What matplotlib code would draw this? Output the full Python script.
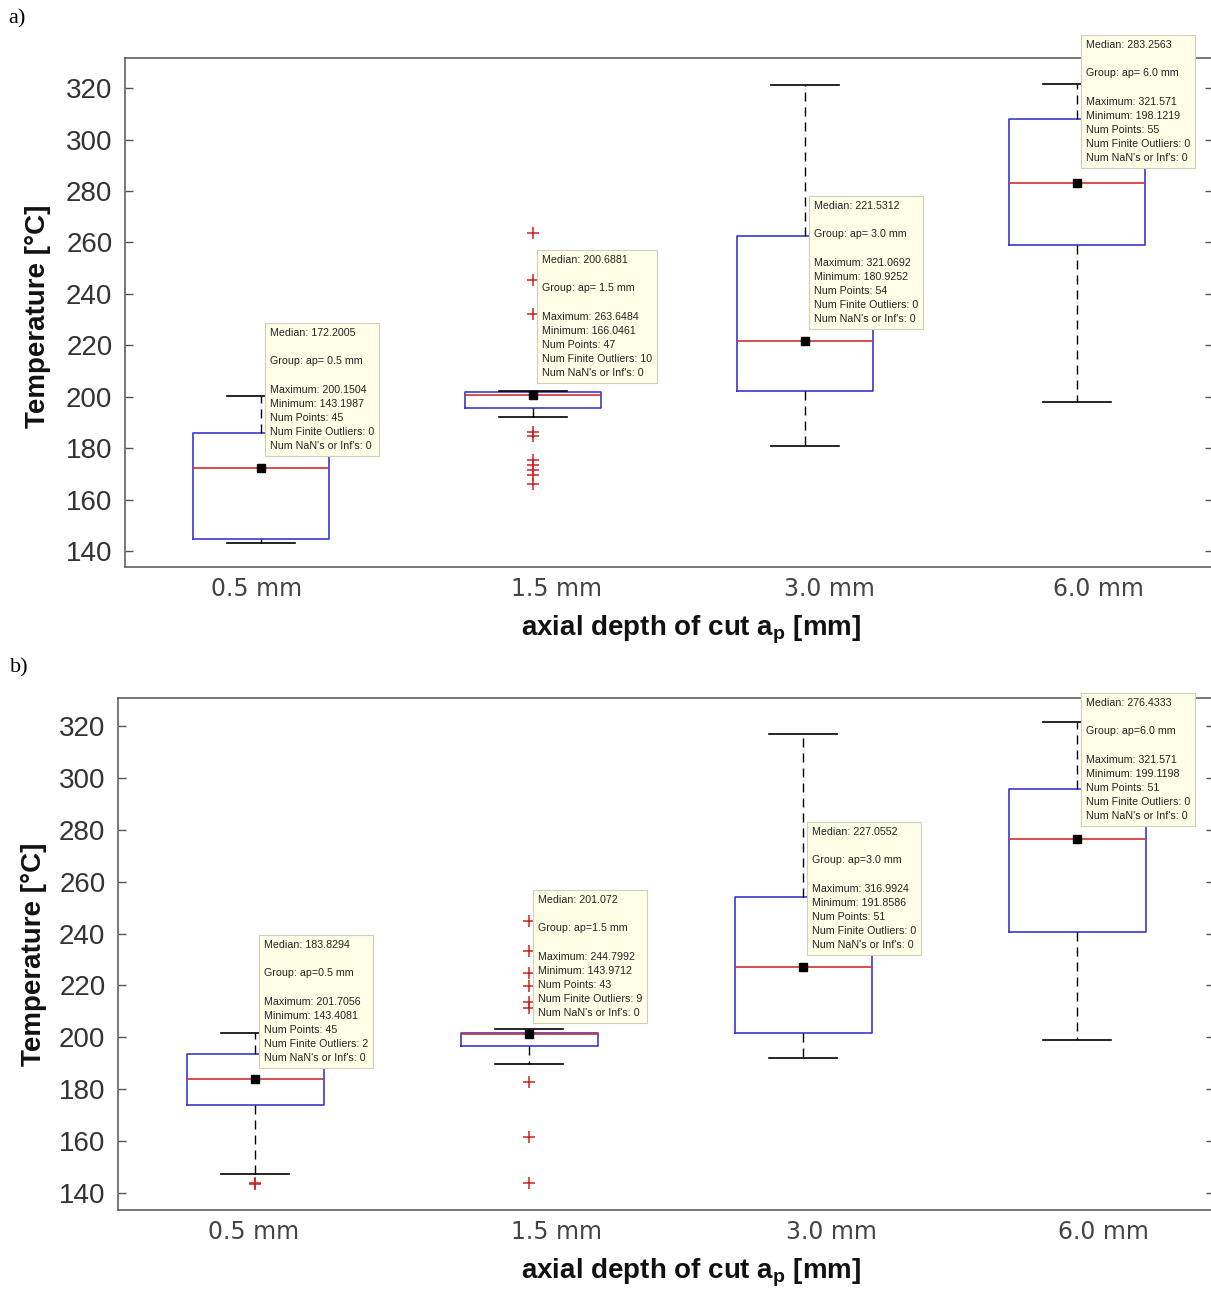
import matplotlib
matplotlib.use("Agg")
import matplotlib.pyplot as plt

# ---------------- data ----------------
categories = ["0.5 mm", "1.5 mm", "3.0 mm", "6.0 mm"]
positions = [1, 2, 3, 4]

a_groups = ["ap= 0.5 mm", "ap= 1.5 mm", "ap= 3.0 mm", "ap= 6.0 mm"]
a_med = [172.2005, 200.6881, 221.5312, 283.2563]
a_q1 = [144.7, 195.8, 202.2, 259.0]
a_q3 = [185.9, 201.8, 262.5, 308.0]
a_whislo = [143.1987, 192.0, 180.9252, 198.1219]
a_whishi = [200.1504, 202.3, 321.0692, 321.571]
a_fliers = [[], [263.6484, 245.4, 232.1, 186.4, 184.7, 175.4, 173.4, 171.5, 169.5, 166.0461], [], []]
a_npoints = [45, 47, 54, 55]

b_groups = ["ap=0.5 mm", "ap=1.5 mm", "ap=3.0 mm", "ap=6.0 mm"]
b_med = [183.8294, 201.072, 227.0552, 276.4333]
b_q1 = [173.9, 196.7, 201.7, 240.6]
b_q3 = [193.6, 201.7, 254.1, 295.7]
b_whislo = [147.3, 189.7, 191.8586, 199.1198]
b_whishi = [201.7056, 203.2, 316.9924, 321.571]
b_fliers = [[143.4081, 143.9], [244.7992, 233.3, 224.7, 219.8, 213.7, 211.2, 182.9, 161.7, 143.9712], [], []]
b_npoints = [45, 43, 51, 51]

yticks = [140, 160, 180, 200, 220, 240, 260, 280, 300, 320]

# ---------------- layout ----------------
W, H = 1211, 1290
fig = plt.figure(figsize=(W / 100, H / 100), dpi=100)

panels = [
    dict(rect=[125 / W, 1 - 567 / H, 1088 / W, 509 / H], ylim=(133.8, 331.7),
         med=a_med, q1=a_q1, q3=a_q3, lo=a_whislo, hi=a_whishi, fl=a_fliers,
         n=a_npoints, grp=a_groups, tip_y=[226.7, 255.1, 276.1, 338.7],
         lab_off=[-0.015, 0.085, 0.09, 0.08], letter="a)", letter_xy=(8, 19),
         xlabel_y=630, ylabel_xy=(38, 316)),
    dict(rect=[118 / W, 1 - 1210 / H, 1096 / W, 512 / H], ylim=(133.4, 330.8),
         med=b_med, q1=b_q1, q3=b_q3, lo=b_whislo, hi=b_whishi, fl=b_fliers,
         n=b_npoints, grp=b_groups, tip_y=[237.5, 254.9, 281.1, 330.8],
         lab_off=[-0.005, 0.1, 0.105, 0.095], letter="b)", letter_xy=(10, 668),
         xlabel_y=1273, ylabel_xy=(34, 954)),
]

plt.rcParams["mathtext.fontset"] = "custom"
plt.rcParams["mathtext.bf"] = "Liberation Sans:bold"
plt.rcParams["mathtext.rm"] = "Liberation Sans"

spine_col = "#555555"
for p in panels:
    ax = fig.add_axes(p["rect"])
    stats = []
    for i in range(4):
        stats.append(dict(med=p["med"][i], q1=p["q1"][i], q3=p["q3"][i],
                          whislo=p["lo"][i], whishi=p["hi"][i], fliers=p["fl"][i]))
    ax.bxp(stats, positions=positions, widths=0.5, capwidths=0.25,
           boxprops=dict(color="#3a3acc", linewidth=1.2),
           medianprops=dict(color="#d03030", linewidth=1.2),
           whiskerprops=dict(color="black", linewidth=1.0, linestyle=(0, (6.5, 4.3))),
           capprops=dict(color="black", linewidth=1.2),
           flierprops=dict(marker="+", markeredgecolor="#d02020", markersize=8,
                           markeredgewidth=1.1, linestyle="none"))
    ax.plot(positions, p["med"], "s", color="black", markersize=6, zorder=5)

    ax.set_xlim(0.5, 4.5)
    ax.set_ylim(*p["ylim"])
    ax.set_yticks(yticks)
    ax.set_yticklabels([str(v) for v in yticks], fontfamily="Liberation Sans",
                       fontsize=20, color="#333333")
    ax.set_xticks([pos + o for pos, o in zip(positions, p["lab_off"])])
    ax.set_xticklabels(categories, fontfamily="DejaVu Sans", fontsize=17, color="#444444")
    ax.tick_params(axis="x", length=0, pad=7)
    ax.tick_params(axis="y", direction="in", length=6, width=1.0, color=spine_col,
                   left=True, right=True, pad=9)
    for s in ax.spines.values():
        s.set_color(spine_col)
        s.set_linewidth(1.1)

    # data tips
    for i in range(4):
        allv = [p["lo"][i], p["hi"][i]] + list(p["fl"][i])
        txt = (f"Median: {p['med'][i]}\n\nGroup: {p['grp'][i]}\n\n"
               f"Maximum: {max(allv)}\nMinimum: {min(allv)}\n"
               f"Num Points: {p['n'][i]}\nNum Finite Outliers: {len(p['fl'][i])}\n"
               f"Num NaN's or Inf's: 0")
        ax.text(positions[i] + 0.033, p["tip_y"][i], txt, ha="left", va="top",
                fontsize=7.7, fontfamily="Liberation Sans", color="#222222",
                linespacing=1.52, zorder=20, clip_on=False,
                bbox=dict(boxstyle="square,pad=0.45", facecolor="#ffffe8",
                          edgecolor="#cfcfbf", linewidth=0.8))

    fig.text(0.571, 1 - p["xlabel_y"] / H, r"axial depth of cut $\mathbf{a}_\mathbf{p}$ [mm]",
             ha="center", va="center", fontsize=20, fontweight="bold",
             fontfamily="Liberation Sans", color="#111111")
    fig.text(p["ylabel_xy"][0] / W, 1 - p["ylabel_xy"][1] / H, "Temperature [°C]",
             rotation=90, ha="center", va="center", fontsize=20, fontweight="bold",
             fontfamily="Liberation Sans", color="#111111")
    fig.text(p["letter_xy"][0] / W, 1 - p["letter_xy"][1] / H, p["letter"],
             ha="left", va="center", fontsize=16, fontfamily="Liberation Serif",
             color="black")

fig.savefig("out.png", dpi=100)
